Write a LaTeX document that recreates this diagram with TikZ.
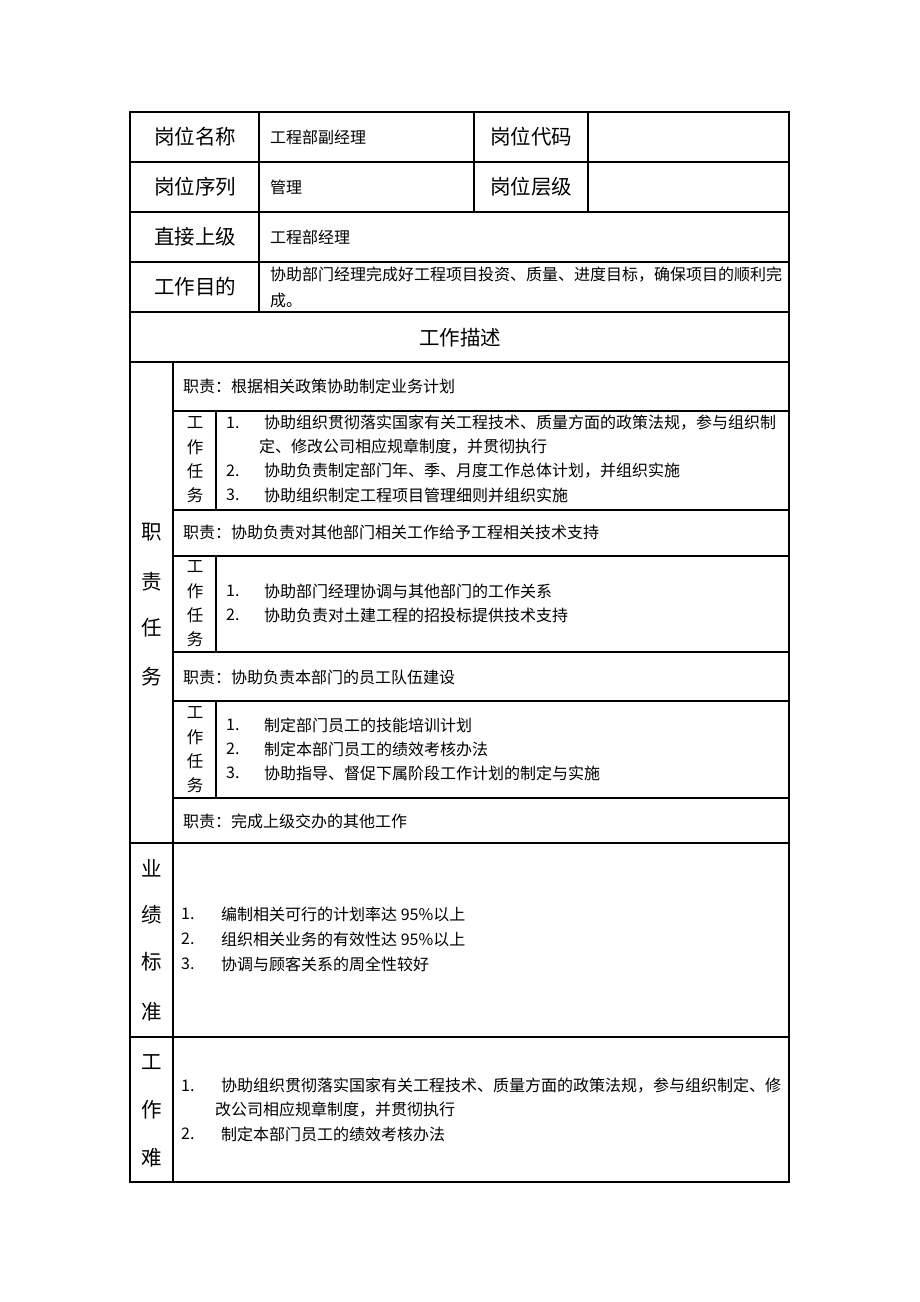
\documentclass[tikz,border=0pt]{standalone}
\usepackage{fontspec}
\setmainfont{Noto Sans CJK SC}
\usetikzlibrary{positioning}
\tikzset{
    %Define style for table rules
    rule/.style={
           line width=1.3pt,
           draw=black},
    %Define style for big field labels
    field/.style={
           font=\fontsize{20.5}{24}\selectfont,
           inner sep=0pt},
    %Define style for cell text
    cell/.style={
           font=\fontsize{16}{24}\selectfont,
           inner sep=0pt,
           anchor=west},
    % small vertical labels
    tasklbl/.style={
           font=\fontsize{16.5}{24}\selectfont,
           inner sep=0pt},
}
\begin{document}
\begin{tikzpicture}[x=1pt,y=-1pt]
\useasboundingbox (0,0) rectangle (920,1302);
% table frame and rules
\draw[rule] (130,112) rectangle (789,1182);
\foreach \y in {162,212,262,312,362,843,1037}
   \draw[rule] (130,\y) -- (789,\y);
\foreach \y in {411,510,556,652,701,798}
   \draw[rule] (173,\y) -- (789,\y);
\draw[rule] (259,112) -- (259,312);
\draw[rule] (474,112) -- (474,212);
\draw[rule] (588,112) -- (588,212);
\draw[rule] (173,362) -- (173,1182);
\draw[rule] (216,411) -- (216,510);
\draw[rule] (216,556) -- (216,652);
\draw[rule] (216,701) -- (216,798);

% header rows
\node[field] (namelbl)  at (195,137) {岗位名称};
\node[field] (seqlbl)   at (195,187) {岗位序列};
\node[field] (bosslbl)  at (195,237) {直接上级};
\node[field] (goallbl)  at (195,287) {工作目的};
\node[field] (codelbl)  at (531,137) {岗位代码};
\node[field] (levellbl) at (531,187) {岗位层级};
\node[cell] (name) at (270,137) {工程部副经理};
\node[cell] (seq)  at (270,187) {管理};
\node[cell] (boss) at (270,237) {工程部经理};
\node[cell] (goal) at (270,275) {协助部门经理完成好工程项目投资、质量、进度目标，确保项目的顺利完};
\node[cell] (goal2) at (270,300) {成。};
\node[field] (desc) at (460,338) {工作描述};

% duties column
\foreach \c/\y [count=\i] in {职/532,责/582,任/628,务/677}
   \node[field] (duty\i) at (152,\y) {\c};
\node[cell] (resp1) at (183,386) {职责：根据相关政策协助制定业务计划};
\node[cell] (resp2) at (183,532) {职责：协助负责对其他部门相关工作给予工程相关技术支持};
\node[cell] (resp3) at (183,677) {职责：协助负责本部门的员工队伍建设};
\node[cell] (resp4) at (183,821) {职责：完成上级交办的其他工作};

% task labels
\foreach \c/\y [count=\i] in {工/423,作/447,任/471,务/495}
   \node[tasklbl] (taskA\i) at (195,\y) {\c};
\foreach \c/\y [count=\i] in {工/567,作/591,任/615,务/639}
   \node[tasklbl] (taskB\i) at (195,\y) {\c};
\foreach \c/\y [count=\i] in {工/713,作/737,任/761,务/785}
   \node[tasklbl] (taskC\i) at (195,\y) {\c};

% task items
\node[cell] (a1n) at (226,423) {1.};
\node[cell] (a1)  at (264,423) {协助组织贯彻落实国家有关工程技术、质量方面的政策法规，参与组织制};
\node[cell] (a1b) at (259,447) {定、修改公司相应规章制度，并贯彻执行};
\node[cell] (a2n) at (226,471) {2.};
\node[cell] (a2)  at (264,471) {协助负责制定部门年、季、月度工作总体计划，并组织实施};
\node[cell] (a3n) at (226,495) {3.};
\node[cell] (a3)  at (264,495) {协助组织制定工程项目管理细则并组织实施};
\node[cell] (b1n) at (226,591) {1.};
\node[cell] (b1)  at (264,591) {协助部门经理协调与其他部门的工作关系};
\node[cell] (b2n) at (226,615) {2.};
\node[cell] (b2)  at (264,615) {协助负责对土建工程的招投标提供技术支持};
\node[cell] (c1n) at (226,725) {1.};
\node[cell] (c1)  at (264,725) {制定部门员工的技能培训计划};
\node[cell] (c2n) at (226,749) {2.};
\node[cell] (c2)  at (264,749) {制定本部门员工的绩效考核办法};
\node[cell] (c3n) at (226,773) {3.};
\node[cell] (c3)  at (264,773) {协助指导、督促下属阶段工作计划的制定与实施};

% performance standards
\foreach \c/\y [count=\i] in {业/868,绩/915,标/962,准/1012}
   \node[field] (perf\i) at (152,\y) {\c};
\node[cell] (p1n) at (181,914) {1.};
\node[cell] (p1)  at (221,914) {编制相关可行的计划率达 95\%以上};
\node[cell] (p2n) at (181,939) {2.};
\node[cell] (p2)  at (221,939) {组织相关业务的有效性达 95\%以上};
\node[cell] (p3n) at (181,964) {3.};
\node[cell] (p3)  at (221,964) {协调与顾客关系的周全性较好};

% difficulties
\foreach \c/\y [count=\i] in {工/1062,作/1110,难/1158}
   \node[field] (hard\i) at (152,\y) {\c};
\node[cell] (h1n) at (181,1086) {1.};
\node[cell] (h1)  at (221,1086) {协助组织贯彻落实国家有关工程技术、质量方面的政策法规，参与组织制定、修};
\node[cell] (h1b) at (215,1110) {改公司相应规章制度，并贯彻执行};
\node[cell] (h2n) at (181,1134) {2.};
\node[cell] (h2)  at (221,1134) {制定本部门员工的绩效考核办法};
\end{tikzpicture}
\end{document}
